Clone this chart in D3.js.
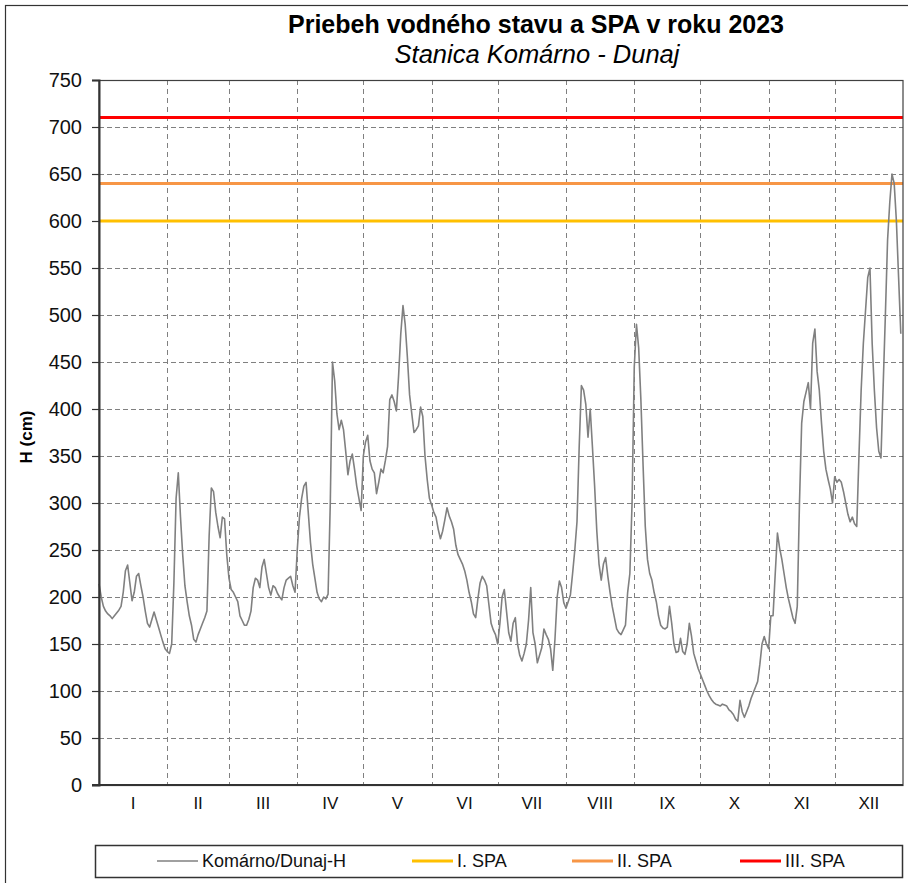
<!DOCTYPE html>
<html>
<head>
<meta charset="utf-8">
<script src="https://cdn.jsdelivr.net/npm/d3@7"></script>
<style>
  body { margin: 0; background: #fff; }
  svg { display: block; font-family: "Liberation Sans", Arial, sans-serif; }
</style>
</head>
<body>
<svg id="chart" width="908" height="883"></svg>
<script>
// water level H (cm), one value per day
const hJan = [214,200,190,185,182,180,177,180,183,186,190,205,228,234,215,196,205,222,225,212,200,185,172,168,176,184,176,168,160,152,145];
const hFeb = [142,140,150,215,305,332,285,245,212,195,180,170,155,152,160,166,172,178,185,265,316,312,290,275,263,285,283,245];
const hMar = [220,208,205,200,195,180,175,170,170,176,185,210,220,218,210,232,240,225,210,202,212,210,204,200,197,210,218,220,222,212,205];
const hApr = [250,285,305,318,322,290,258,235,220,205,198,195,200,198,203,300,450,430,395,378,388,378,355,330,345,352,336,318,305,292];
const hMay = [350,365,372,345,336,332,310,322,336,332,345,360,410,415,408,398,435,480,510,490,455,415,395,375,378,382,402,392,350,325,305];
const hJun = [298,290,285,272,262,270,282,295,286,280,272,255,245,240,235,228,218,205,195,182,178,198,215,222,218,212,192,172,165,160];
const hJul = [150,172,200,208,185,162,153,172,178,150,138,132,140,150,175,210,162,150,130,138,146,166,160,155,145,122,155,200,217,210,194];
const hAug = [188,195,202,225,250,280,360,425,420,405,370,400,360,318,270,235,218,235,242,222,205,190,178,166,162,160,165,170,205,225,300];
const hSep = [445,490,465,410,340,275,240,225,218,205,195,180,170,167,166,168,190,172,150,141,142,156,142,139,150,172,158,140,132,124];
const hOct = [118,112,106,100,95,91,88,86,85,84,86,85,84,80,78,75,70,68,90,78,72,78,84,92,98,104,110,128,150,158,150];
const hNov = [145,180,180,225,268,252,240,225,210,198,188,178,172,190,300,385,408,418,428,400,470,485,440,420,385,355,336,325,315,300];
const hDec = [328,322,325,322,312,300,288,280,285,278,275,350,420,470,505,540,550,470,420,380,355,348,425,500,580,620,650,640,600,540,480];

const monthLabels = ["I","II","III","IV","V","VI","VII","VIII","IX","X","XI","XII"];
const yTicks = d3.range(0, 751, 50);
const spaLevels = [600, 640, 710];
const spaNames = ["I. SPA", "II. SPA", "III. SPA"];
const seriesName = "Komárno/Dunaj-H";

const spaColors = ["#FFC000", "#F79646", "#FF0000"];
const lineColor = "#808080";
const textColor = "#111";

const levels = [].concat(hJan, hFeb, hMar, hApr, hMay, hJun, hJul, hAug, hSep, hOct, hNov, hDec);
const start = new Date(2023, 0, 1);
const end = new Date(2024, 0, 1);
const data = levels.map((h, i) => ({ date: d3.timeDay.offset(start, i), h }));

const svg = d3.select("#chart");
const plot = { left: 99, right: 903, top: 80, bottom: 785 };

const x = d3.scaleTime().domain([start, end]).range([plot.left, plot.right]);
const y = d3.scaleLinear().domain([0, 750]).range([plot.bottom, plot.top]);

// outer frame
svg.append("rect")
  .attr("x", 5.5).attr("y", 5.5)
  .attr("width", 930).attr("height", 900)
  .attr("fill", "#fff")
  .attr("stroke", "#333").attr("stroke-width", 1.2);

// title
svg.append("text")
  .attr("x", 536).attr("y", 33)
  .attr("text-anchor", "middle")
  .attr("font-size", 25).attr("font-weight", "bold")
  .attr("fill", "#000")
  .text("Priebeh vodného stavu a SPA v roku 2023");

svg.append("text")
  .attr("x", 537).attr("y", 63)
  .attr("text-anchor", "middle")
  .attr("font-size", 25.5).attr("font-style", "italic")
  .attr("fill", "#000")
  .text("Stanica Komárno - Dunaj");

// grid
const grid = svg.append("g")
  .attr("stroke", "#808080")
  .attr("stroke-width", 1)
  .attr("stroke-dasharray", "5,3");

grid.selectAll("line.h")
  .data(yTicks.filter(v => v > 0 && v < 750))
  .join("line")
  .attr("class", "h")
  .attr("x1", plot.left).attr("x2", plot.right)
  .attr("y1", d => Math.round(y(d)) + 0.5)
  .attr("y2", d => Math.round(y(d)) + 0.5);

const monthStarts = d3.timeMonth.range(start, end);
grid.selectAll("line.v")
  .data(monthStarts.slice(1))
  .join("line")
  .attr("class", "v")
  .attr("x1", d => Math.round(x(d)) + 0.5)
  .attr("x2", d => Math.round(x(d)) + 0.5)
  .attr("y1", plot.top).attr("y2", plot.bottom)
  .attr("stroke-dasharray", "5,4");

// SPA lines
svg.append("g").selectAll("line")
  .data(spaLevels)
  .join("line")
  .attr("x1", plot.left).attr("x2", plot.right)
  .attr("y1", d => y(d)).attr("y2", d => y(d))
  .attr("stroke", (d, i) => spaColors[i])
  .attr("stroke-width", 3);

// water level line
const line = d3.line()
  .x(d => x(d.date))
  .y(d => y(d.h));

svg.append("path")
  .datum(data)
  .attr("d", line)
  .attr("fill", "none")
  .attr("stroke", lineColor)
  .attr("stroke-width", 1.6)
  .attr("stroke-linejoin", "round");

// plot border
svg.append("rect")
  .attr("x", plot.left).attr("y", plot.top + 0.5)
  .attr("width", plot.right - plot.left).attr("height", plot.bottom - plot.top)
  .attr("fill", "none")
  .attr("stroke", "#404040").attr("stroke-width", 1.2);

// y axis
const yAxis = svg.append("g")
  .attr("transform", `translate(${plot.left},0)`)
  .call(d3.axisLeft(y).tickValues(yTicks).tickSize(7).tickPadding(10));
yAxis.select(".domain").attr("stroke", "#333").attr("stroke-width", 2);
yAxis.selectAll(".tick line").attr("stroke", "#333").attr("stroke-width", 1.2);
yAxis.selectAll(".tick text")
  .attr("font-size", 20)
  .attr("font-family", "\"Liberation Sans\", Arial, sans-serif")
  .attr("fill", textColor);

// x axis line
svg.append("line")
  .attr("x1", plot.left - 7).attr("x2", plot.right)
  .attr("y1", plot.bottom).attr("y2", plot.bottom)
  .attr("stroke", "#333").attr("stroke-width", 2);

// month labels centred in each month
svg.append("g").selectAll("text")
  .data(monthStarts)
  .join("text")
  .attr("x", d => (x(d) + x(d3.timeMonth.offset(d, 1))) / 2)
  .attr("y", 809)
  .attr("text-anchor", "middle")
  .attr("font-size", 17)
  .attr("fill", textColor)
  .text((d, i) => monthLabels[i]);

// y axis title
svg.append("text")
  .attr("transform", "translate(32,437) rotate(-90)")
  .attr("text-anchor", "middle")
  .attr("font-size", 17).attr("font-weight", "bold")
  .attr("fill", "#000")
  .text("H (cm)");

// legend
const legend = svg.append("g");
legend.append("rect")
  .attr("x", 95.5).attr("y", 845.5)
  .attr("width", 807).attr("height", 32)
  .attr("fill", "#fff")
  .attr("stroke", "#333").attr("stroke-width", 1.5);

const legendItems = [
  { name: seriesName, color: lineColor, width: 1.6, x0: 157 },
  { name: spaNames[0], color: spaColors[0], width: 3, x0: 412 },
  { name: spaNames[1], color: spaColors[1], width: 3, x0: 572 },
  { name: spaNames[2], color: spaColors[2], width: 3, x0: 740 }
];

const item = legend.selectAll("g.item")
  .data(legendItems)
  .join("g")
  .attr("class", "item")
  .attr("transform", d => `translate(${d.x0},861)`);

item.append("line")
  .attr("x1", 0).attr("x2", 41)
  .attr("stroke", d => d.color)
  .attr("stroke-width", d => d.width);

item.append("text")
  .attr("x", 45).attr("y", 6)
  .attr("font-size", 18)
  .attr("fill", textColor)
  .text(d => d.name);
</script>
</body>
</html>
